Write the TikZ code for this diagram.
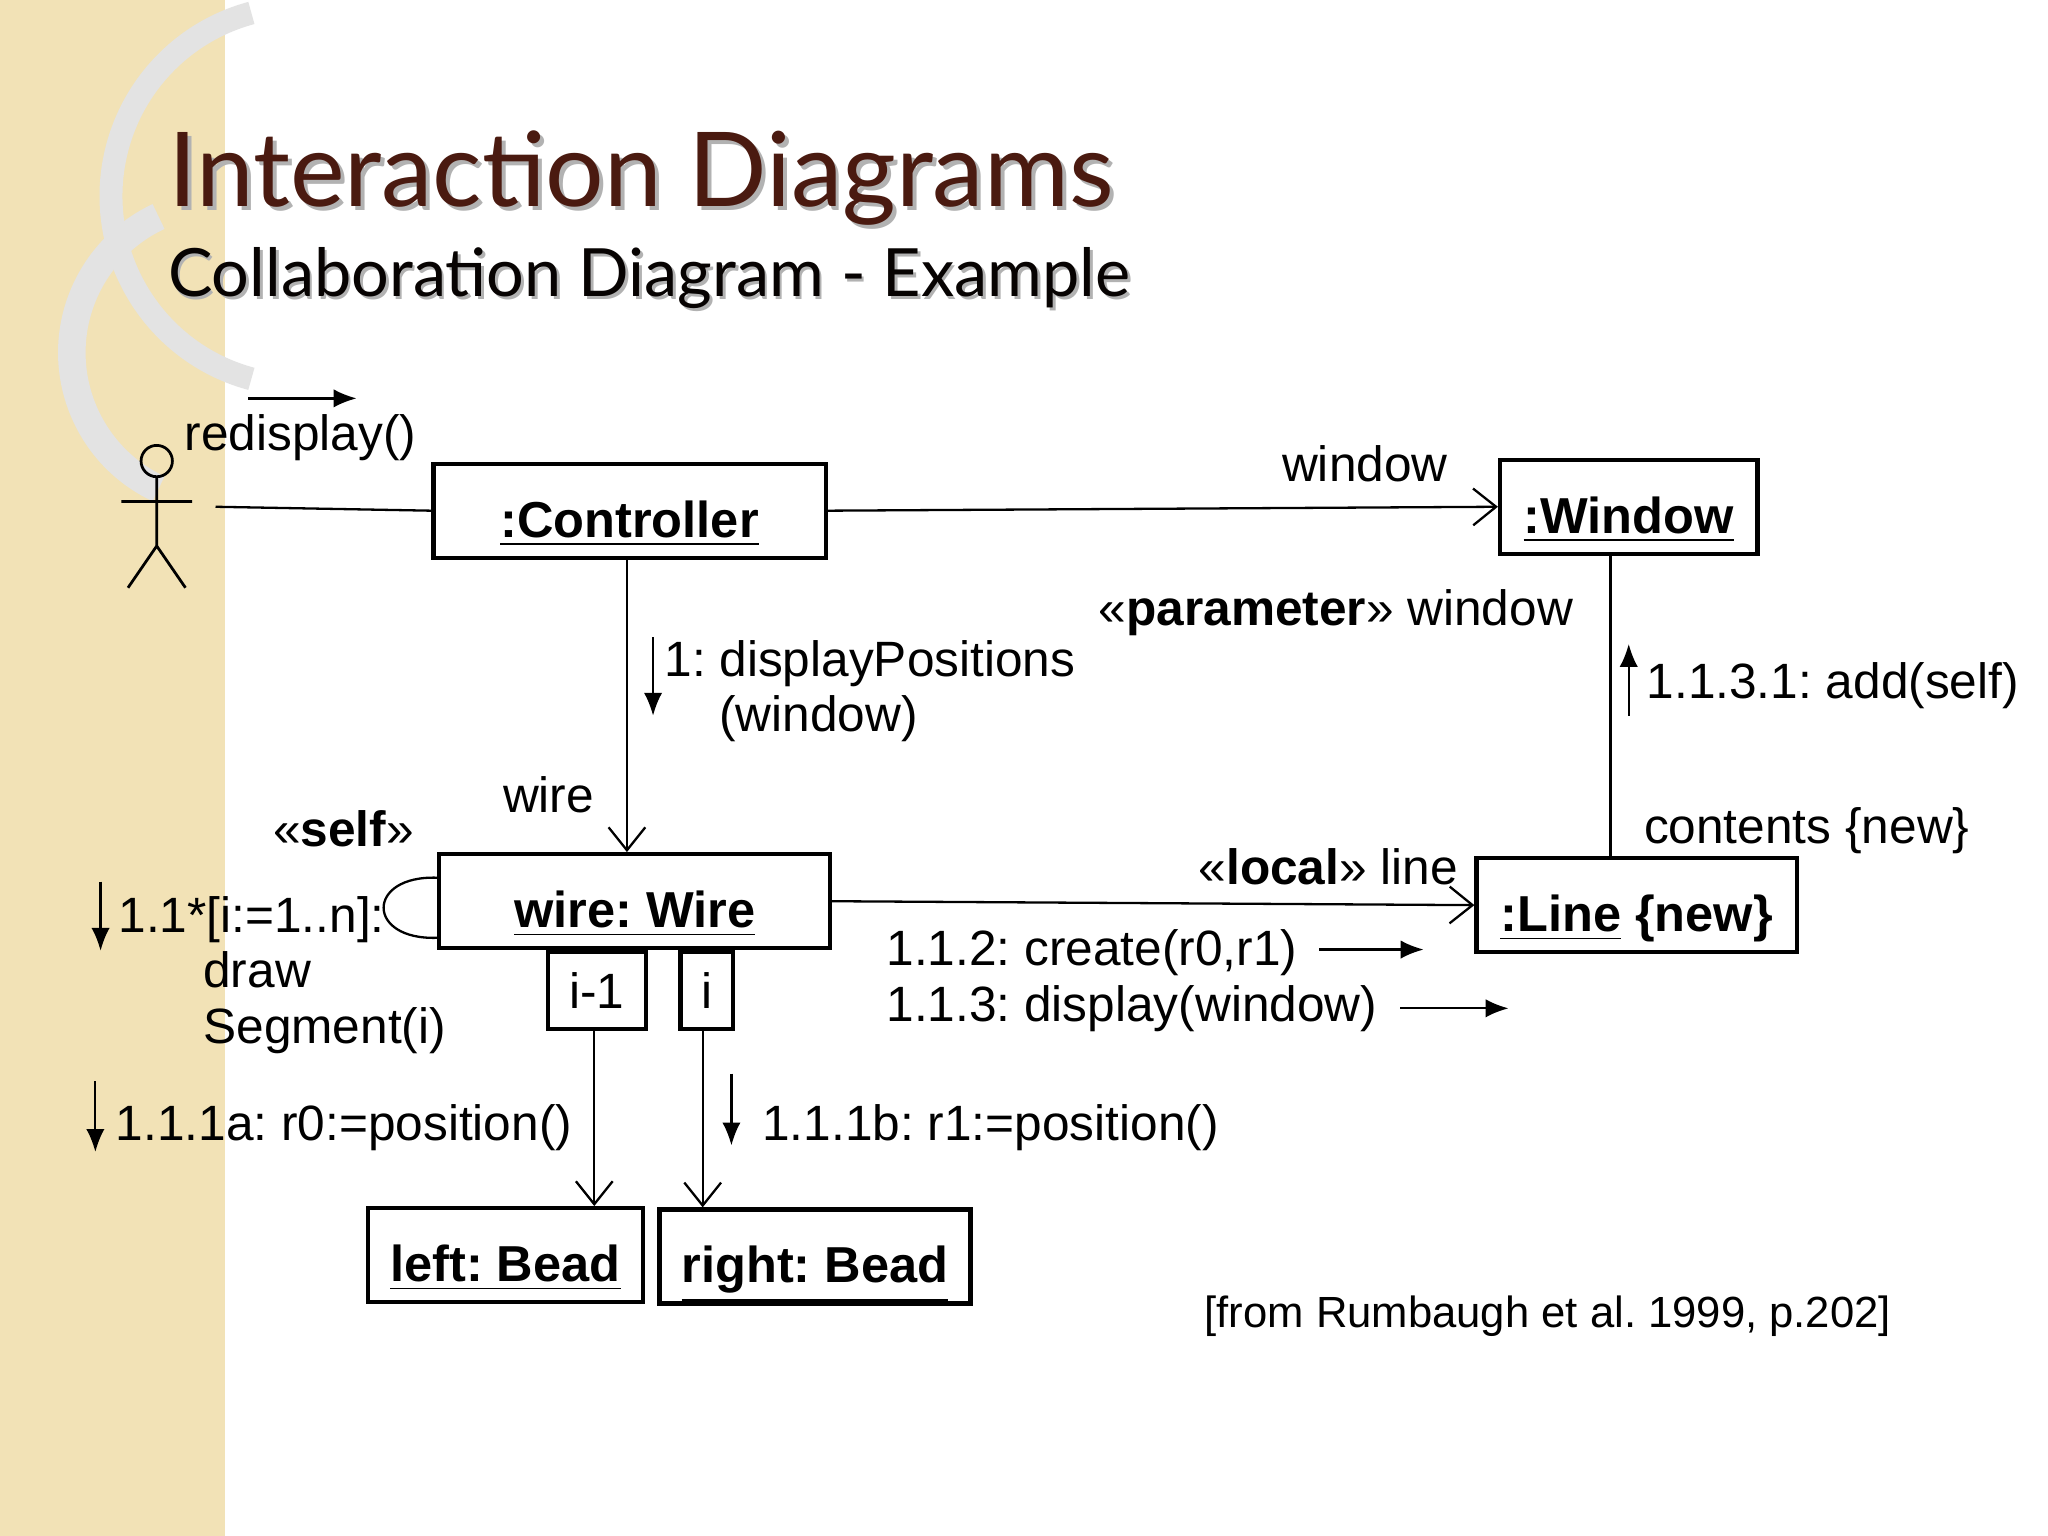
\documentclass[tikz,border=0pt]{standalone}
\usepackage{fontspec}
\setmainfont{Liberation Sans}
\newfontfamily\titlefont{Lato}
\usetikzlibrary{arrows.meta}
\definecolor{beige}{HTML}{F2E2B6}
\definecolor{ttl}{HTML}{4A1A10}
\begin{document}
\frenchspacing
\begin{tikzpicture}[x=0.01cm,y=-0.01cm,
  obj/.style={draw,line width=0.9pt,minimum height=0.72cm,text height=1.15em,text depth=0pt,anchor=center,font=\fontsize{11}{13}\selectfont\bfseries},
  lbl/.style={font=\fontsize{10.8}{13}\selectfont,inner sep=0pt},
  conn/.style={line width=0.5pt,-{Straight Barb[length=5pt,width=8pt]}},
  msg/.style={line width=0.5pt,-{Latex[length=5pt,width=4pt]}}]
\useasboundingbox (0,0) rectangle (1568,1176);
\fill[white] (0,0) rectangle (1568,1176);
\fill[beige] (0,0) rectangle (172,1176);
\draw[gray!22,line width=5pt] (230,150) ++(105:145) arc (105:255:145);
\draw[gray!22,line width=6pt] (170,270) ++(115:115) arc (115:245:115);
% title
\node[anchor=base west,inner sep=0pt,text=gray!60,font=\titlefont\fontsize{22.5}{26}\selectfont] at (131,161) {Interaction Diagrams};
\node[anchor=base west,inner sep=0pt,text=ttl,font=\titlefont\fontsize{22.5}{26}\selectfont] (t1) at (128,158) {Interaction Diagrams};
\node[anchor=base west,inner sep=0pt,text=gray!60,font=\titlefont\fontsize{14.5}{17}\selectfont] at (130,229) {Collaboration Diagram - Example};
\node[anchor=base west,inner sep=0pt,text=black!90!ttl,font=\titlefont\fontsize{14.5}{17}\selectfont] (t2) at (128,227) {Collaboration Diagram - Example};
% actor
\draw[line width=0.6pt] (120,353) circle (12);
\draw[line width=0.6pt] (120,365) -- (120,418) (93,384) -- (147,384) (98,450) -- (120,418) -- (142,450);
\coordinate (act) at (165,388);
% objects
\node[obj,minimum width=3cm] (ctrl) at (482,391) {\underline{:Controller}};
\node[obj,minimum width=1.97cm] (win) at (1247,388) {\underline{:Window}};
\node[obj,minimum width=2.99cm] (wire) at (486,690) {\underline{wire: Wire}};
\node[obj,minimum width=2.45cm] (line) at (1253,693) {\underline{:Line} \{new\}};
\node[draw,line width=0.9pt,minimum width=0.75cm,minimum height=0.59cm,font=\fontsize{10.8}{13}\selectfont] (q1) at (457,758) {i-1};
\node[draw,line width=0.9pt,minimum width=0.4cm,minimum height=0.59cm,font=\fontsize{10.8}{13}\selectfont] (q2) at (541,758) {i};
\node[obj,minimum width=2.1cm] (lb) at (387,961) {\underline{left: Bead}};
\node[obj,minimum width=2.38cm] (rb) at (624,962) {\underline{right: Bead}};
% connectors
\draw[line width=0.5pt] (act) -- (ctrl.west);
\draw[conn] (ctrl.east) -- (win.west);
\draw[conn] (ctrl.south -| 480,0) -- (wire.north -| 480,0);
\draw[line width=0.5pt] (win.south -| 1233,0) -- (line.north -| 1233,0);
\draw[conn] (wire.east) -- (line.west);
\draw[line width=0.5pt] (wire.west |- 0,672) .. controls (280,670) and (280,720) .. (wire.west |- 0,718);
\draw[conn] (q1.south -| 455,0) -- (lb.north -| 455,0);
\draw[conn] (q2.south -| 538,0) -- (rb.north -| 538,0);
% labels
\node[lbl,anchor=base] (l1) at (230,345) {redisplay()};
\draw[msg] (190,305) -- (273,305);
\node[lbl,anchor=base] (l2) at (1045,369) {window};
\node[lbl,anchor=base] (l3) at (420,622) {wire};
\node[lbl,anchor=base west] (l4) at (508,518) {1: displayPositions};
\node[lbl,anchor=base west] (l5) at (550,560) {(window)};
\draw[msg] (500,488) -- (500,548);
\node[lbl,anchor=base east] (l6) at (1205,479) {«\textbf{parameter}» window};
\node[lbl,anchor=base west] (l7) at (1260,535) {1.1.3.1: add(self)};
\draw[msg] (1247,548) -- (1247,493);
\node[lbl,anchor=base west] (l8) at (1258,646) {contents \{new\}};
\node[lbl,anchor=base] (l9) at (1017,677) {«\textbf{local}» line};
\node[lbl,anchor=base west] (l10) at (678,739) {1.1.2: create(r0,r1)};
\draw[msg] (1010,727) -- (1090,727);
\node[lbl,anchor=base west] (l11) at (678,782) {1.1.3: display(window)};
\draw[msg] (1072,772) -- (1155,772);
\node[lbl,anchor=base] (l12) at (263,648) {«\textbf{self}»};
\node[lbl,anchor=base west] (l13) at (90,714) {1.1*[i:=1..n]:};
\node[lbl,anchor=base west] (l14) at (155,756) {draw};
\node[lbl,anchor=base west] (l15) at (155,799) {Segment(i)};
\draw[msg] (77,675) -- (77,728);
\node[lbl,anchor=base west] (l16) at (88,873) {1.1.1a: r0:=position()};
\draw[msg] (73,828) -- (73,882);
\node[lbl,anchor=base west] (l17) at (583,873) {1.1.1b: r1:=position()};
\draw[msg] (560,822) -- (560,877);
\node[lbl,anchor=base,font=\fontsize{9.5}{11}\selectfont] (cit) at (1185,1016) {[from Rumbaugh et al. 1999, p.202]};
\end{tikzpicture}
\end{document}
